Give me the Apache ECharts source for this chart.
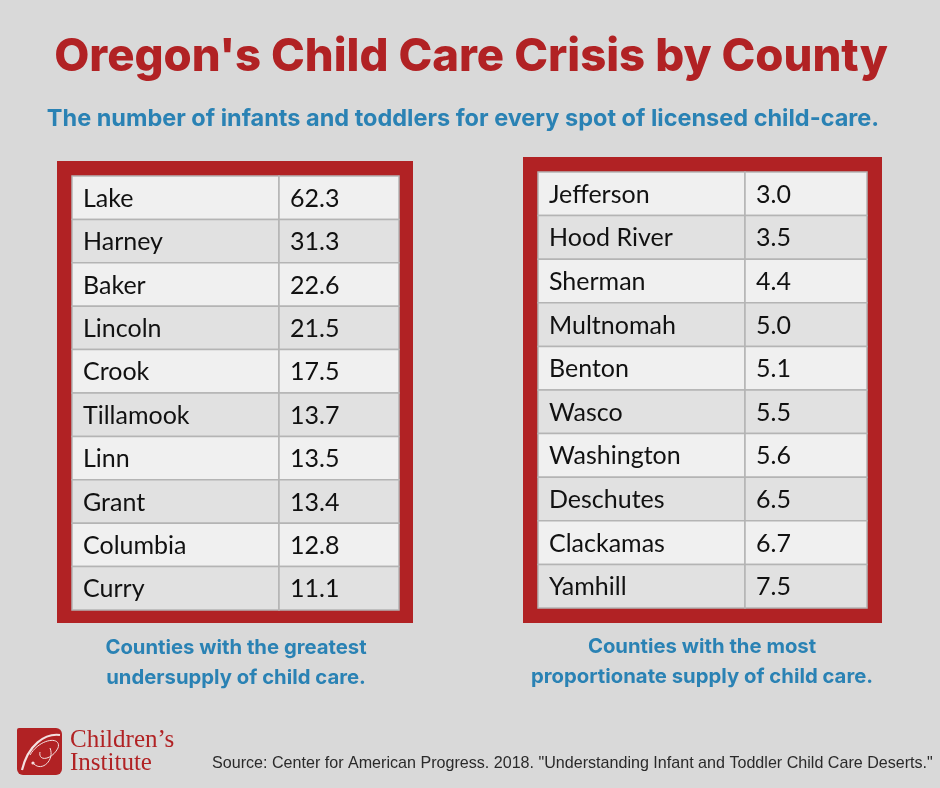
<!DOCTYPE html>
<html><head><meta charset="utf-8">
<script src="https://cdn.jsdelivr.net/npm/echarts@6/dist/echarts.min.js"></script>
<style>html,body{margin:0;padding:0;background:#d9d9d9}#c{width:940px;height:788px}</style>
</head><body><div id="c"></div>
<script>
const leftCounties = ['Lake','Harney','Baker','Lincoln','Crook','Tillamook','Linn','Grant','Columbia','Curry'];
const leftValues = ['62.3','31.3','22.6','21.5','17.5','13.7','13.5','13.4','12.8','11.1'];
const rightCounties = ['Jefferson','Hood River','Sherman','Multnomah','Benton','Wasco','Washington','Deschutes','Clackamas','Yamhill'];
const rightValues = ['3.0','3.5','4.4','5.0','5.1','5.5','5.6','6.5','6.7','7.5'];

const RED = '#b12224';
const BLUE = '#2a82b4';
const cellFont = '25px Lato';

function makeRender(texts){
  return function(params, api){
    const c = api.coord([api.value(0), api.value(1)]);
    const s = api.size([1,1]);
    const x = c[0]-s[0]/2, y = c[1]-s[1]/2;
    return {type:'group', children:[
      {type:'rect', shape:{x:x,y:y,width:s[0],height:s[1]},
       style:{fill: params.dataIndex%2 ? '#e1e1e1' : '#f0f0f0', stroke:'#b4b4b4', lineWidth:1.5}},
      {type:'text', style:{x:x+11, y:c[1]+1, text:texts[params.dataIndex], font:cellFont, fill:'#111', align:'left', verticalAlign:'middle'}}
    ]};
  };
}

const grids = [
  {left:72, top:176, width:207, height:434},
  {left:279, top:176, width:120, height:434},
  {left:538, top:172, width:207, height:436},
  {left:745, top:172, width:122, height:436}
];
const tables = [
  [leftCounties, leftCounties],
  [leftCounties, leftValues],
  [rightCounties, rightCounties],
  [rightCounties, rightValues]
];

const xAxes = grids.map((g,i)=>({type:'category', gridIndex:i, data:['c'], show:false}));
const yAxes = tables.map((t,i)=>({type:'category', gridIndex:i, data:t[0], inverse:true, show:false}));
const series = tables.map((t,i)=>({
  type:'custom', xAxisIndex:i, yAxisIndex:i, z:5,
  renderItem: makeRender(t[1]),
  data: t[0].map((c,j)=>[0,j])
}));

const option = {
  backgroundColor:'#d9d9d9',
  animation:false,
  title:[
    {text:"Oregon's Child Care Crisis by County", left:471, textAlign:'center', top:34, padding:0,
     textStyle:{fontFamily:'Inter', fontWeight:800, fontSize:45.5, color:RED}},
    {text:'The number of infants and toddlers for every spot of licensed child-care.', left:463, textAlign:'center', top:107, padding:0,
     textStyle:{fontFamily:'Inter', fontWeight:'bold', fontSize:23.5, color:BLUE}},
    {text:'Counties with the greatest\nundersupply of child care.', left:236, textAlign:'center', top:633, padding:0,
     textStyle:{fontFamily:'Inter', fontWeight:'bold', fontSize:20.3, lineHeight:30, color:BLUE, align:'center'}},
    {text:'Counties with the most\nproportionate supply of child care.', left:702, textAlign:'center', top:632, padding:0,
     textStyle:{fontFamily:'Inter', fontWeight:'bold', fontSize:20.3, lineHeight:30, color:BLUE, align:'center'}},
    {text:'Source: Center for American Progress. 2018. "Understanding Infant and Toddler Child Care Deserts."', left:212, top:756, padding:0,
     textStyle:{fontFamily:'Liberation Sans', fontWeight:'normal', fontSize:16.1, color:'#2a2a2a'}}
  ],
  grid: grids,
  xAxis: xAxes,
  yAxis: yAxes,
  series: series,
  graphic:[
    {type:'rect', z:0, shape:{x:57,y:161,width:356,height:462}, style:{fill:RED}},
    {type:'rect', z:0, shape:{x:523,y:157,width:359,height:466}, style:{fill:RED}},
    {type:'rect', z:0, shape:{x:17,y:728,width:45,height:47,r:[2,6,6,6]}, style:{fill:RED}},
    {type:'bezierCurve', z:1, shape:{x1:22,y1:770,cpx1:28,cpy1:745,cpx2:45,cpy2:733,x2:60,y2:735}, style:{stroke:'#f3e0e0', lineWidth:2.2, fill:null}},
    {type:'bezierCurve', z:1, shape:{x1:30,y1:755,cpx1:40,cpy1:738,cpx2:62,cpy2:736,x2:58,y2:748}, style:{stroke:'#f3e0e0', lineWidth:1, fill:null}},
    {type:'bezierCurve', z:1, shape:{x1:58,y1:748,cpx1:52,cpy1:760,cpx2:38,cpy2:762,x2:40,y2:752}, style:{stroke:'#f3e0e0', lineWidth:1, fill:null}},
    {type:'bezierCurve', z:1, shape:{x1:50,y1:748,cpx1:55,cpy1:760,cpx2:42,cpy2:772,x2:34,y2:764}, style:{stroke:'#f3e0e0', lineWidth:1, fill:null}},
    {type:'circle', z:1, shape:{cx:33,cy:763,r:1.6}, style:{fill:'#f3e0e0'}},
    {type:'text', z:1, left:70, top:728, style:{text:'Children\u2019s', font:'25px "Liberation Serif"', fill:RED}},
    {type:'text', z:1, left:70, top:751, style:{text:'Institute', font:'25px "Liberation Serif"', fill:RED}}
  ]
};
const chart = echarts.init(document.getElementById('c'));
chart.setOption(option);
</script></body></html>
